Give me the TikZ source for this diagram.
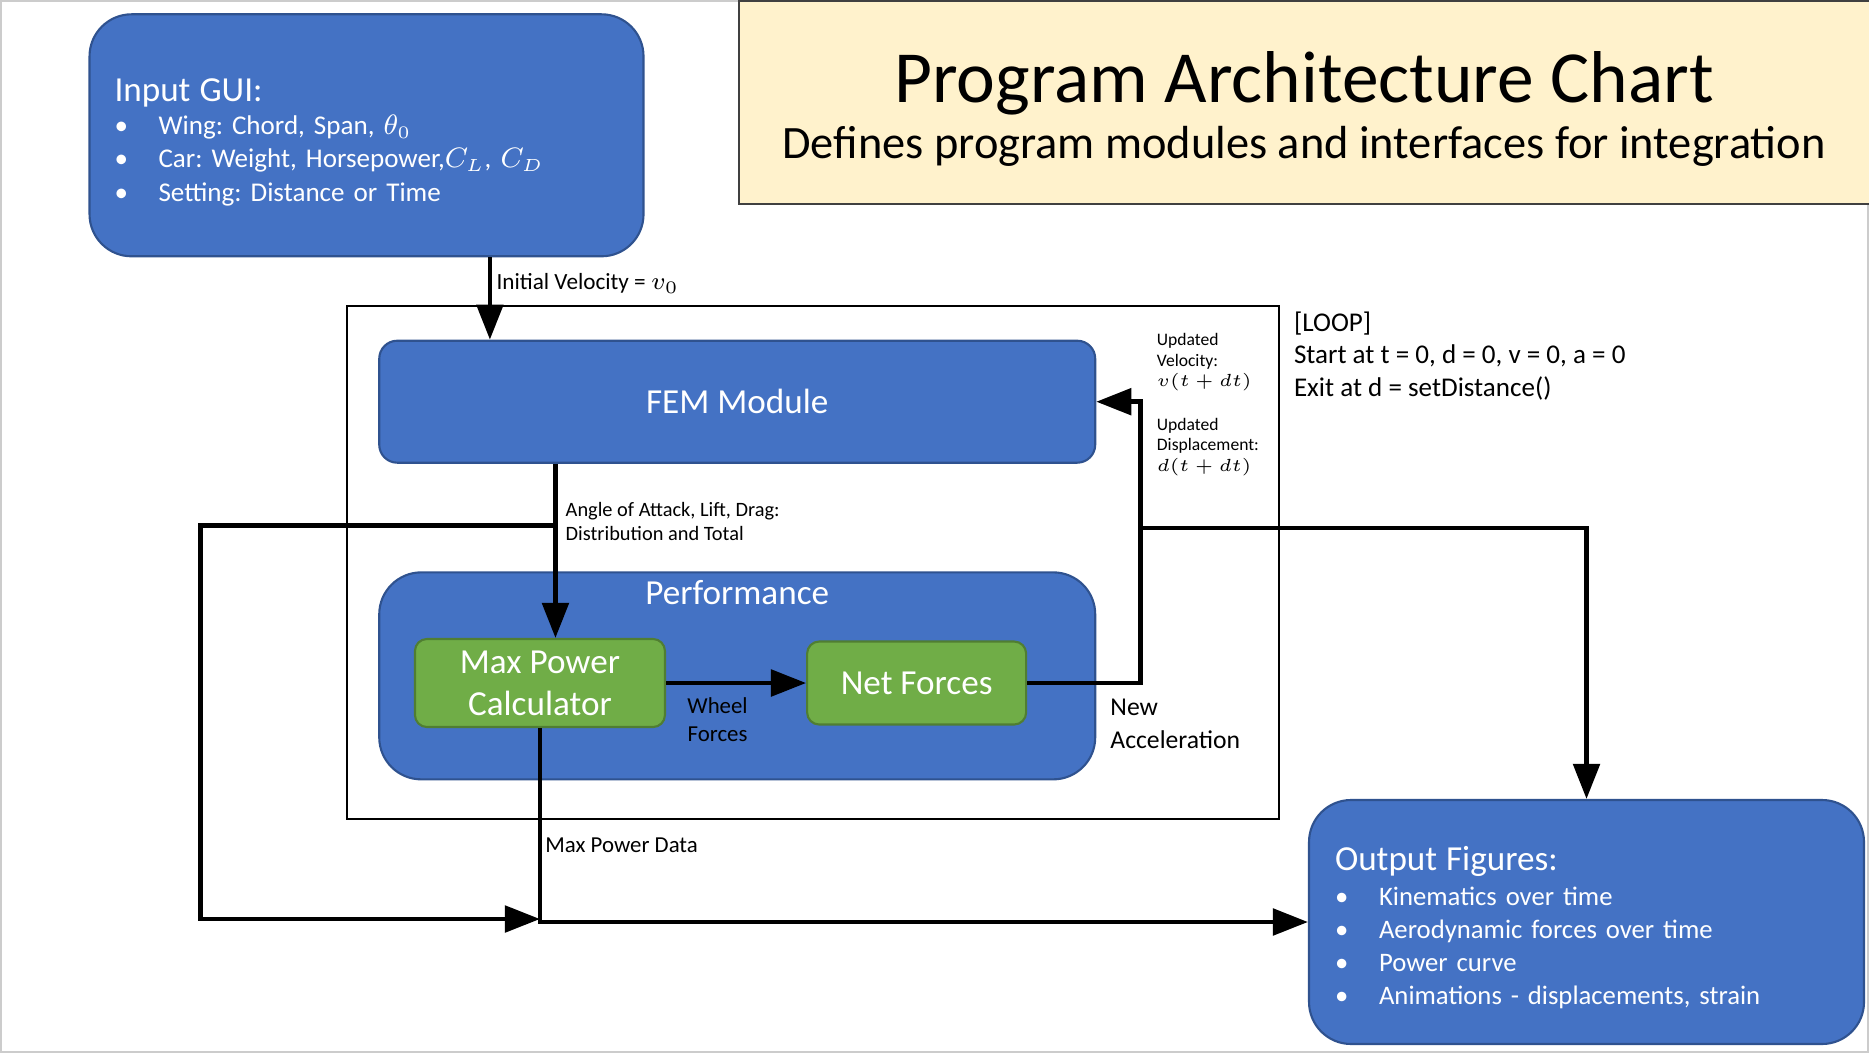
\documentclass[tikz,border=0pt]{standalone}
\usepackage{fontspec}
\setmainfont{Carlito}
\usepackage{tikz}
\usetikzlibrary{arrows.meta}
\definecolor{gblue}{HTML}{4472C4}
\definecolor{gblueline}{HTML}{2F528F}
\definecolor{ggreen}{HTML}{70AD47}
\definecolor{ggreenline}{HTML}{507E32}
\definecolor{gtitle}{HTML}{FFF2CC}
\tikzstyle{module} = [rectangle, draw=gblueline, fill=gblue, text=white, line width=0.6pt]
\tikzstyle{calc} = [rectangle, draw=ggreenline, fill=ggreen, text=white, line width=0.6pt, rounded corners=1.2mm, minimum width=25mm, minimum height=8.3mm, align=center, font=\fontsize{10}{11.9}\selectfont]
\tikzstyle{line} = [draw, line width=1.3pt, -{Triangle[length=10pt,width=7.5pt]}]
\tikzstyle{lbl} = [inner sep=0pt, align=left]
\newcommand{\gbul}{\makebox[4.4mm][l]{\textbullet}}
\frenchspacing

\begin{document}
\begin{tikzpicture}[x=0.1192mm, y=-0.1192mm]
		\useasboundingbox (0,0) rectangle (1568,883);
		\draw [black!20, line width=0.6pt] (0.5,0.5) rectangle (1567.5,882.5);
		% Place nodes
		\node [draw=black!75, fill=gtitle, line width=0.6pt, minimum width=113.5mm, minimum height=20.3mm] (title) at (1096,86) {};
		\node [anchor=base, font=\fontsize{20.9}{24}\selectfont] (titletxt) at (1094,86) {Program Architecture Chart};
		\node [anchor=base, font=\fontsize{13.2}{15}\selectfont] (subtxt) at (1094,133) {Defines program modules and interfaces for integration};
		\node [module, rounded corners=4.2mm, minimum width=55.4mm, minimum height=24.2mm, text width=50.4mm, inner xsep=2.5mm, align=left, font=\fontsize{7.7}{9.5}\selectfont] (gui) at (307.5,113.5)
			{{\fontsize{10}{12}\selectfont\rule{0pt}{10.4pt}Input GUI:}\\
			\gbul Wing: Chord, Span, $\theta_0$\\
			\gbul Car: Weight, Horsepower,$C_L$, $C_D$\\
			\gbul Setting: Distance or Time};
		\node [draw, line width=0.5pt, minimum width=93.2mm, minimum height=51.3mm] (loop) at (682,472) {};
		\node [module, rounded corners=1.8mm, minimum width=71.6mm, minimum height=12.2mm, font=\fontsize{10}{12}\selectfont] (fem) at (618.5,337) {FEM Module};
		\node [module, rounded corners=4.2mm, minimum width=71.6mm, minimum height=20.7mm] (perf) at (618.5,567) {};
		\node [anchor=base, text=white, font=\fontsize{10}{12}\selectfont] (perftxt) at (618.5,507) {Performance};
		\node [calc] (maxpow) at (453,573) {Max Power\\Calculator};
		\node [calc, minimum width=21.9mm] (netf) at (769,573) {Net Forces};
		\node [module, rounded corners=4.2mm, minimum width=55.5mm, minimum height=24.4mm, text width=50.3mm, inner xsep=2.6mm, align=left, font=\fontsize{7.6}{9.3}\selectfont] (output) at (1331,773.5)
			{{\fontsize{10}{12}\selectfont\rule{0pt}{10pt}Output Figures:}\\[0.7pt]
			\gbul Kinematics over time\\
			\gbul Aerodynamic forces over time\\
			\gbul Power curve\\
			\gbul Animations - displacements, strain};
		% Labels
		\node [lbl, anchor=base west, font=\fontsize{6.6}{8}\selectfont] (vinit) at (416,243) {Initial Velocity = $v_0$};
		\node [lbl, anchor=north west, font=\fontsize{5.8}{6.8}\selectfont] (aoatxt) at (474,421) {Angle of Attack, Lift, Drag:\\Distribution and Total};
		\node [lbl, anchor=north west, font=\fontsize{5}{5.9}\selectfont] (veltxt) at (970,279) {Updated\\Velocity:\\$v(t+dt)$};
		\node [lbl, anchor=north west, font=\fontsize{5}{5.9}\selectfont] (disptxt) at (970,350) {Updated\\Displacement:\\$d(t+dt)$};
		\node [lbl, anchor=base west, font=\fontsize{6.5}{8}\selectfont] (mpdtxt) at (457,715) {Max Power Data};
		\node [lbl, anchor=north, align=center, font=\fontsize{6.5}{7.8}\selectfont] (wheeltxt) at (602,585) {Wheel\\Forces};
		\node [lbl, anchor=north west, font=\fontsize{7.3}{9.2}\selectfont] (acctxt) at (931,586) {New\\Acceleration};
		\node [lbl, anchor=north west, font=\fontsize{7.7}{9.2}\selectfont] (looptxt) at (1085,261) {[LOOP]\\Start at t = 0, d = 0, v = 0, a = 0\\Exit at d = setDistance()};
		% Helper points
		\coordinate (vx) at (411,250);
		\coordinate (aoa) at (466,441);
		\coordinate (lcorner) at (168,771);
		\coordinate (loopx) at (957,443);
		% Draw edges
		\path [line] (gui.south -| vx) -- (fem.north -| vx);
		\path [line] (fem.south -| aoa) -- (maxpow.north -| aoa);
		\path [line] (aoa) -| (lcorner) -- (maxpow.south |- lcorner);
		\path [line] (maxpow.south) |- (output.west);
		\path [line] (maxpow.east) -- (netf.west);
		\path [line] (netf.east) -| (loopx) |- (fem.east);
		\path [line] (loopx) -| (output.north);
	\end{tikzpicture}
\end{document}
